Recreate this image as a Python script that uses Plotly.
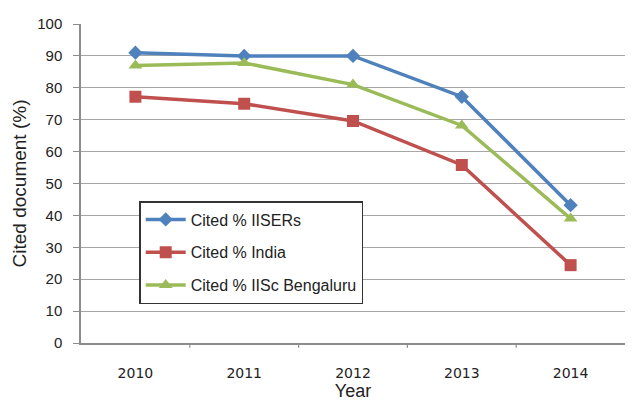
import plotly.graph_objects as go

years = ["2010", "2011", "2012", "2013", "2014"]
cited_iisers = [91, 90, 90, 77.2, 43.2]
cited_india = [77.2, 75, 69.6, 55.8, 24.4]
cited_iisc = [87, 87.8, 81, 68.2, 39]

series = [
    ("Cited % IISERs", cited_iisers, "#4F81BD", "diamond", 11),
    ("Cited % India", cited_india, "#C0504D", "square", 12),
    ("Cited % IISc Bengaluru", cited_iisc, "#9BBB59", "triangle-up", 12),
]

fig = go.Figure()
for i, (name, vals, color, symbol, size) in enumerate(series):
    fig.add_trace(go.Scatter(
        x=years, y=vals, name=name, mode="lines+markers",
        line=dict(color=color, width=3.5),
        marker=dict(symbol=symbol, size=size, color=color),
        legendgroup=f"g{i}",
    ))

fig.update_layout(
    width=643, height=401,
    margin=dict(l=81, r=18, t=24, b=58),
    paper_bgcolor="white", plot_bgcolor="white",
    font=dict(family="Liberation Sans, Arial", color="#222"),
    showlegend=True,
    legend=dict(
        x=0.107, y=0.445, xanchor="left", yanchor="top",
        bordercolor="#333", borderwidth=1.5, bgcolor="white",
        font=dict(size=16, family="Liberation Sans, Arial", color="#222"),
        tracegroupgap=9, itemwidth=40,
    ),
    xaxis=dict(
        type="category", range=[-0.5, 4.5], automargin=False,
        showline=True, linecolor="#8c8c8c", linewidth=1.5,
        ticks="", showgrid=False, ticklabelstandoff=16,
        tickfont=dict(size=14, family="DejaVu Sans", color="#222"),
        title=dict(text="Year", font=dict(size=18), standoff=2),
    ),
    yaxis=dict(
        range=[0, 100], dtick=10, automargin=False,
        showline=True, linecolor="#8c8c8c", linewidth=1.5,
        ticks="outside", ticklen=6, tickcolor="#8c8c8c",
        ticklabelstandoff=8,
        showgrid=True, gridcolor="#a6a6a6", gridwidth=1.2,
        zeroline=False,
        tickfont=dict(size=15),
        title=dict(text="Cited document (%)", font=dict(size=19), standoff=6),
    ),
)

# category boundary tick marks on the x axis
for k in range(1, 5):
    fig.add_shape(type="line", xref="x", yref="paper",
                  x0=k - 0.5, x1=k - 0.5, y0=0, y1=-0.015,
                  line=dict(color="#8c8c8c", width=1.2))

fig.write_html("out.html")
